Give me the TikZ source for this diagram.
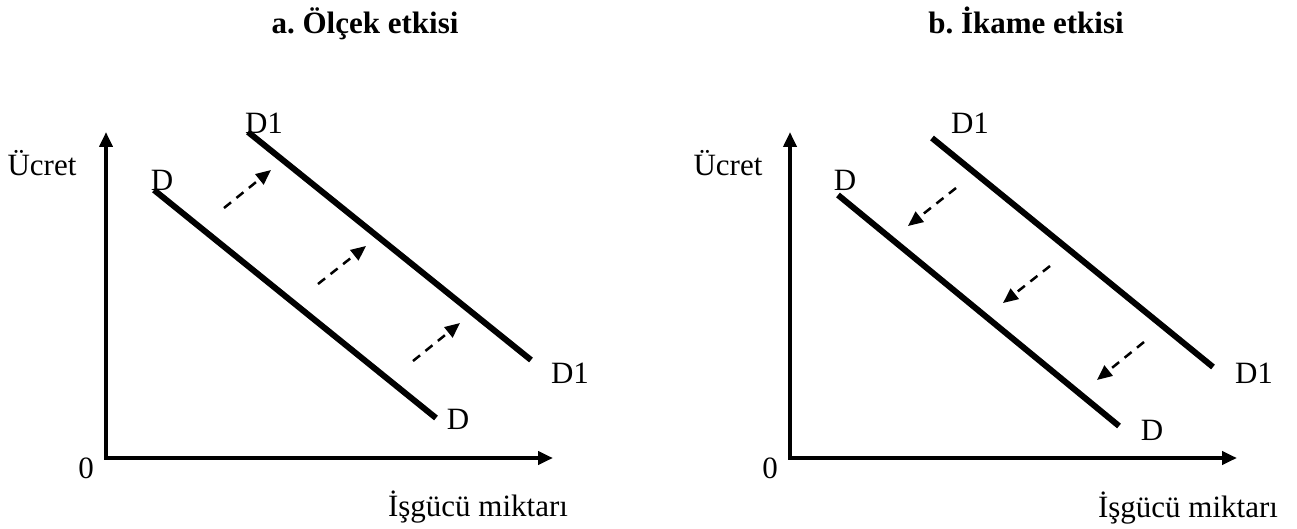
\documentclass[tikz,border=0pt]{standalone}
\usepackage{fontspec}
\setmainfont{Liberation Serif}
\usetikzlibrary{arrows.meta}
\frenchspacing

\begin{document}
\begin{tikzpicture}[x=1pt,y=-1pt,
  lbl/.style={font=\fontsize{31}{36}\selectfont,inner sep=0pt},
  ttl/.style={font=\fontsize{31}{36}\selectfont\bfseries,inner sep=0pt,anchor=base},
  axis/.style={line width=4pt,{Triangle[length=15pt,width=13pt]}-{Triangle[length=15pt,width=13pt]}},
  curve/.style={line width=6pt},
  move/.style={line width=2.5pt,dash pattern=on 9pt off 7pt,-{Triangle[length=15pt,width=13pt]}}]
\useasboundingbox (0,0) rectangle (1297,529);

\node[ttl] (ta) at (365,34) {a. Ölçek etkisi};
\node[ttl] (tb) at (1026,34) {b. İkame etkisi};

\coordinate (oa) at (106,458);
\coordinate (ya) at (106,132);
\coordinate (xa) at (553,458);
\coordinate (ob) at (790,458);
\coordinate (yb) at (790,132);
\coordinate (xb) at (1237,458);
\draw[axis] (ya) -- (oa) -- (xa);
\draw[axis] (yb) -- (ob) -- (xb);

\node[lbl] (wa) at (42,163) {Ücret};
\node[lbl] (za) at (86,468) {0};
\node[lbl] (qa) at (478,507) {İşgücü miktarı};
\node[lbl] (wb) at (728,163) {Ücret};
\node[lbl] (zb) at (770,468) {0};
\node[lbl] (qb) at (1188,508) {İşgücü miktarı};

\coordinate (da1) at (154,190);  \coordinate (da2) at (436,418);
\coordinate (ea1) at (248,132);  \coordinate (ea2) at (531,360);
\coordinate (db1) at (838,195);  \coordinate (db2) at (1119,426);
\coordinate (eb1) at (932,138);  \coordinate (eb2) at (1213,367);
\foreach \a/\b in {da1/da2,ea1/ea2,db1/db2,eb1/eb2} \draw[curve] (\a) -- (\b);

\node[lbl] (lda1) at (162,180) {D};
\node[lbl] (lea1) at (264,123) {D1};
\node[lbl] (lda2) at (458,419) {D};
\node[lbl] (lea2) at (570,373) {D1};
\node[lbl] (ldb1) at (845,180) {D};
\node[lbl] (leb1) at (970,123) {D1};
\node[lbl] (ldb2) at (1152,430) {D};
\node[lbl] (leb2) at (1254,373) {D1};

\coordinate (sa1) at (224,208);  \coordinate (ha1) at (271,170);
\coordinate (sa2) at (318,284);  \coordinate (ha2) at (366,246);
\coordinate (sa3) at (413,361);  \coordinate (ha3) at (460,323);
\coordinate (sb1) at (956,188);  \coordinate (hb1) at (908,226);
\coordinate (sb2) at (1050,266); \coordinate (hb2) at (1003,303);
\coordinate (sb3) at (1144,342); \coordinate (hb3) at (1097,380);
\foreach \a/\b in {sa1/ha1,sa2/ha2,sa3/ha3,sb1/hb1,sb2/hb2,sb3/hb3} \draw[move] (\a) -- (\b);
\end{tikzpicture}
\end{document}
